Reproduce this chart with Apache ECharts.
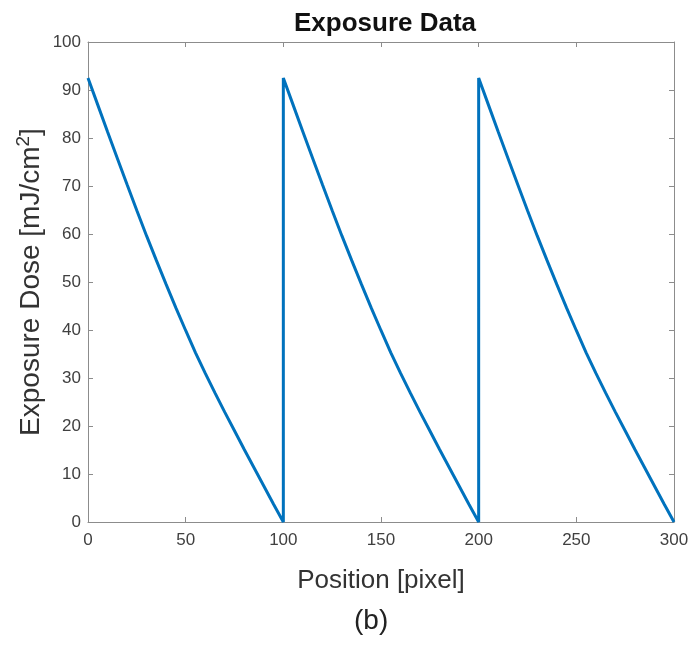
<!DOCTYPE html>
<html>
<head>
<meta charset="utf-8">
<script src="https://cdn.jsdelivr.net/npm/echarts@6/dist/echarts.min.js"></script>
<style>
    html, body { margin: 0; padding: 0; background: #fff; }
    #main { width: 692px; height: 653px; }
</style>
</head>
<body>
<div id="main"></div>
<script>
// exposure sawtooth (position in pixels, dose in mJ/cm2)
var position = [
    0, 5, 10, 15, 20, 25, 30, 35, 40, 45, 50, 55, 60, 65, 70, 75, 80, 85, 90, 95, 100,
    100, 105, 110, 115, 120, 125, 130, 135, 140, 145, 150, 155, 160, 165, 170, 175, 180, 185, 190, 195, 200,
    200, 205, 210, 215, 220, 225, 230, 235, 240, 245, 250, 255, 260, 265, 270, 275, 280, 285, 290, 295, 300
];
var dose = [
    92.5, 86.9, 81.3, 75.8, 70.3, 64.9, 59.6, 54.5, 49.5, 44.6, 39.9, 35.3, 31.0, 26.9, 22.9, 19.0, 15.1, 11.3, 7.5, 3.7, 0,
    92.5, 86.9, 81.3, 75.8, 70.3, 64.9, 59.6, 54.5, 49.5, 44.6, 39.9, 35.3, 31.0, 26.9, 22.9, 19.0, 15.1, 11.3, 7.5, 3.7, 0,
    92.5, 86.9, 81.3, 75.8, 70.3, 64.9, 59.6, 54.5, 49.5, 44.6, 39.9, 35.3, 31.0, 26.9, 22.9, 19.0, 15.1, 11.3, 7.5, 3.7, 0
];

var pairs = [];
for (var i = 0; i < position.length; i++) {
    pairs.push([position[i], dose[i]]);
}

var axisGrey = '#8c8c8c';
var labelColor = '#404040';
var font = 'Liberation Sans, Arial, sans-serif';

// box axes: ticks point inward on all four sides
var boxAxis = function (extra) {
    var base = {
        type: 'value',
        axisLine: { show: true, onZero: false, lineStyle: { color: axisGrey, width: 1 } },
        axisTick: { show: true, inside: true, length: 5, lineStyle: { color: axisGrey } },
        splitLine: { show: false },
        axisLabel: { show: false }
    };
    for (var k in extra) {
        base[k] = extra[k];
    }
    return base;
};

var myChart = echarts.init(document.getElementById('main'));
var option = {
    animation: false,
    title: {
        text: 'Exposure Data',
        left: 380,
        top: 6,
        textAlign: 'center',
        textStyle: { fontFamily: font, fontWeight: 'bold', fontSize: 26, color: '#111' }
    },
    grid: { left: 88, right: 18, top: 42, bottom: 131 },
    xAxis: [
        boxAxis({
            min: 0, max: 300, interval: 50,
            position: 'bottom',
            axisLabel: { show: true, color: labelColor, fontFamily: font, fontSize: 17, margin: 10 },
            name: 'Position [pixel]',
            nameLocation: 'middle',
            nameGap: 46,
            nameTextStyle: { color: '#333', fontFamily: font, fontSize: 26 }
        }),
        boxAxis({ min: 0, max: 300, interval: 50, position: 'top' })
    ],
    yAxis: [
        boxAxis({
            min: 0, max: 100, interval: 10,
            position: 'left',
            axisLabel: { show: true, color: labelColor, fontFamily: font, fontSize: 17, margin: 7 },
            name: '{a|Exposure Dose [mJ/cm}{s|2}{a|]}',
            nameLocation: 'middle',
            nameGap: 41,
            nameMoveOverlap: false,
            nameTextStyle: {
                rich: {
                    a: { color: '#333', fontFamily: font, fontSize: 28, lineHeight: 32 },
                    s: { color: '#333', fontFamily: font, fontSize: 19, lineHeight: 32, padding: [0, 0, 15, 0] }
                }
            }
        }),
        boxAxis({ min: 0, max: 100, interval: 10, position: 'right' })
    ],
    graphic: [{
        type: 'text',
        left: 354,
        top: 607,
        style: { text: '(b)', font: '28px ' + font, fill: '#222' }
    }],
    series: [{
        type: 'line',
        data: pairs,
        showSymbol: false,
        lineStyle: { color: '#0072BD', width: 3 },
        clip: false
    }]
};
myChart.setOption(option);
</script>
</body>
</html>
